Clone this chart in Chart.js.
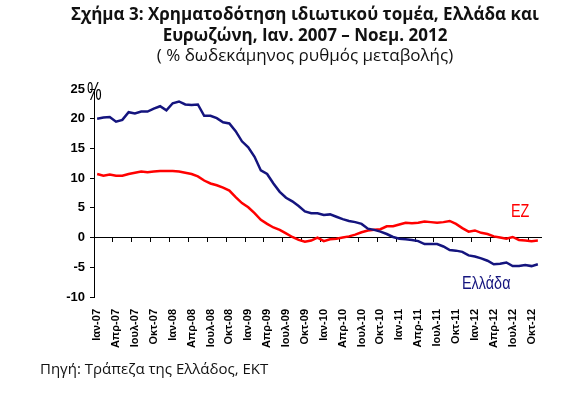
<!DOCTYPE html>
<html>
<head>
<meta charset="utf-8">
<script src="https://cdn.jsdelivr.net/npm/chart.js@4"></script>
<style>
  html, body { margin: 0; padding: 0; background: #fff; overflow: hidden; }
  #wrap { position: relative; width: 585px; height: 395px; }
  #chart { position: absolute; left: 0; top: 0; }
  .txt { position: absolute; white-space: nowrap; color: #000; }
  #title { left: 25px; width: 560px; top: 4px; text-align: center; font-family: "Open Sans", sans-serif; font-size: 17px; line-height: 20.5px; color: #111; }
  #title b { font-weight: 700; }
  #source { left: 40px; top: 361px; font-family: "Open Sans", sans-serif; font-size: 15px; line-height: 15px; color: #111; }
  .lbl { font-family: "Liberation Sans", Arial, sans-serif; font-size: 18px; line-height: 18px; transform: scaleX(0.8); transform-origin: left top; }
  #pct { left: 87px; top: 79px; font-family: "Liberation Sans", Arial, sans-serif; font-size: 25px; line-height: 25px; transform: scaleX(0.66); transform-origin: left top; }
</style>
</head>
<body>
<div id="wrap">
  <canvas id="chart" width="585" height="395"></canvas>
  <div class="txt" id="title"><b>Σχήμα 3: Χρηματοδότηση ιδιωτικού τομέα, Ελλάδα και</b><br><b>Ευρωζώνη, Ιαν. 2007 – Νοεμ. 2012</b><br>( % δωδεκάμηνος ρυθμός μεταβολής)</div>
  <div class="txt" id="pct">%</div>
  <div class="txt lbl" id="lblEz" style="left:511px; top:202px; color:#ff0000;">EZ</div>
  <div class="txt lbl" id="lblGr" style="left:462px; top:274px; color:#14147e;">Ελλάδα</div>
  <div class="txt" id="source">Πηγή: Τράπεζα της Ελλάδος, ΕΚΤ</div>
</div>
<script>
// μήνες και έτη του άξονα (Ιαν. 2007 - Νοεμ. 2012)
const monthNames = ['Ιαν', 'Φεβ', 'Μαρ', 'Απρ', 'Μαϊ', 'Ιουν', 'Ιουλ', 'Αυγ', 'Σεπ', 'Οκτ', 'Νοε', 'Δεκ'];
const years = ['07', '08', '09', '10', '11', '12'];
const lastMonth = 10; // Νοε-12

const categories = [];
years.forEach((y, yi) => {
    monthNames.forEach((m, mi) => {
        if (yi === years.length - 1 && mi > lastMonth) return;
        categories.push(m + '-' + y);
    });
});

// Ελλάδα, % ετήσια μεταβολή
const greece = [
    20.0, 20.2, 20.3, 19.5, 19.8, 21.1, 20.9, 21.2, 21.2, 21.7, 22.1, 21.4,
    22.6, 22.9, 22.4, 22.3, 22.4, 20.5, 20.5, 20.1, 19.4, 19.2, 17.9, 16.2,
    15.2, 13.6, 11.3, 10.7, 9.1, 7.7, 6.7, 6.1, 5.3, 4.4, 4.1, 4.1,
    3.8, 3.9, 3.5, 3.1, 2.8, 2.6, 2.3, 1.5, 1.3, 1.0, 0.6, 0.1,
    -0.2, -0.3, -0.4, -0.6, -1.1, -1.1, -1.1, -1.5, -2.1, -2.2, -2.4, -3.0,
    -3.2, -3.5, -3.9, -4.5, -4.4, -4.2, -4.8, -4.8, -4.6, -4.8, -4.5
];

// Ευρωζώνη
const euroArea = [
    10.7, 10.4, 10.6, 10.4, 10.4, 10.7, 10.9, 11.1, 11.0, 11.1, 11.2, 11.2,
    11.2, 11.1, 10.9, 10.7, 10.3, 9.6, 9.1, 8.8, 8.4, 7.9, 6.8, 5.8,
    5.1, 4.1, 3.0, 2.3, 1.7, 1.3, 0.7, 0.1, -0.4, -0.7, -0.5, 0.0,
    -0.6, -0.3, -0.2, 0.0, 0.2, 0.5, 0.9, 1.2, 1.3, 1.4, 1.9, 1.9,
    2.2, 2.5, 2.4, 2.5, 2.7, 2.6, 2.5, 2.6, 2.8, 2.3, 1.6, 1.0,
    1.2, 0.8, 0.6, 0.2, 0.0, -0.2, 0.1, -0.4, -0.5, -0.6, -0.5
];

const yTicks = { min: -10, max: 25, step: 5 };
const labelEvery = 3;

const chart = new Chart(document.getElementById('chart'), {
    type: 'line',
    data: {
        labels: categories,
        datasets: [
            { label: 'Ελλάδα', data: greece, borderColor: '#14147e', borderWidth: 2.5, pointRadius: 0, tension: 0 },
            { label: 'EZ', data: euroArea, borderColor: '#ff0000', borderWidth: 2.5, pointRadius: 0, tension: 0 }
        ]
    },
    options: {
        responsive: false,
        devicePixelRatio: 1,
        animation: false,
        layout: { padding: { top: 89, right: 44, left: 0, bottom: 0 } },
        plugins: { legend: { display: false }, tooltip: { enabled: false } },
        scales: {
            x: {
                type: 'category',
                offset: true,
                grid: { display: false, drawTicks: false },
                border: { display: false },
                ticks: {
                    autoSkip: false,
                    minRotation: 90,
                    maxRotation: 90,
                    padding: 12,
                    color: '#000',
                    font: { family: 'Liberation Sans', size: 11, weight: 'bold' },
                    callback: (v, i) => i % labelEvery === 0 ? categories[i] : ''
                },
                afterFit: s => { s.height = 98; }
            },
            x2: {
                type: 'category',
                position: { y: 0 },
                offset: true,
                grid: {
                    offset: true,
                    drawOnChartArea: false,
                    drawTicks: true,
                    tickLength: 4,
                    tickWidth: 1,
                    tickColor: ctx => (ctx.index !== undefined && ctx.index % labelEvery === 0) ? '#000' : 'rgba(0,0,0,0)'
                },
                border: { display: true, color: '#000', width: 1 },
                ticks: { display: false, autoSkip: false }
            },
            y: {
                min: yTicks.min,
                max: yTicks.max,
                grid: { drawOnChartArea: false, drawTicks: true, tickLength: 4, tickColor: '#000' },
                border: { display: true, color: '#000', width: 1 },
                ticks: {
                    stepSize: yTicks.step,
                    padding: 5,
                    color: '#000',
                    font: { family: 'Liberation Sans', size: 13, weight: 'bold' }
                },
                afterFit: s => { s.width = 94; }
            }
        }
    }
});
</script>
</body>
</html>
